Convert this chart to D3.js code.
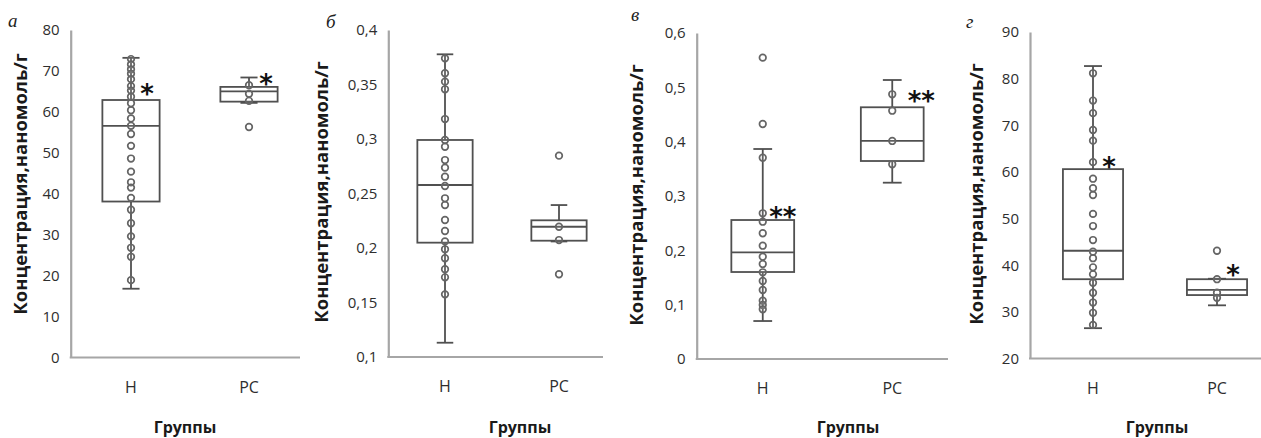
<!DOCTYPE html>
<html><head><meta charset="utf-8">
<script src="https://cdn.jsdelivr.net/npm/d3@7"></script>
<style>
html,body{margin:0;padding:0;background:#fff;}
svg{display:block;}
</style></head>
<body>
<svg id="chart" width="1261" height="438"></svg>
<script>
// ---------------- DATA ----------------
const groups = ["Н", "РС"];
const panelLetters = ["а", "б", "в", "г"];
const xAxisTitle = "Группы";
const yAxisTitle = "Концентрация,наномоль/г";

const yTicksA = [0, 10, 20, 30, 40, 50, 60, 70, 80];
const yTicksB = [0.1, 0.15, 0.2, 0.25, 0.3, 0.35, 0.4];
const yTicksC = [0, 0.1, 0.2, 0.3, 0.4, 0.5, 0.6];
const yTicksD = [20, 30, 40, 50, 60, 70, 80, 90];

// box stats: [lower whisker, Q1, median, Q3, upper whisker]
const boxA_N  = [16.8, 38.1, 56.6, 62.9, 73.2];
const boxA_PC = [62.2, 62.5, 65.0, 66.1, 68.4];
const boxB_N  = [0.1131, 0.2049, 0.2578, 0.2991, 0.3777];
const boxB_PC = [0.2060, 0.2067, 0.2195, 0.2254, 0.2394];
const boxC_N  = [0.0699, 0.1601, 0.1964, 0.2558, 0.3865];
const boxC_PC = [0.3245, 0.3644, 0.4013, 0.4633, 0.5135];
const boxD_N  = [26.5, 37.0, 43.1, 60.6, 82.7];
const boxD_PC = [31.4, 33.6, 34.7, 37.0, 37.1];

// individual observations
const pointsA_N  = [72.9, 71.6, 70.4, 69.3, 68.0, 66.3, 65.2, 63.7, 62.1, 60.4, 58.4, 56.6, 54.6, 51.7, 48.6, 45.4, 42.8, 41.5, 39.0, 36.1, 32.8, 29.6, 26.8, 24.6, 18.9];
const pointsA_PC = [66.5, 64.4, 62.7, 56.3];
const pointsB_N  = [0.374, 0.3603, 0.3526, 0.3456, 0.3183, 0.2991, 0.2929, 0.2807, 0.2737, 0.2654, 0.2569, 0.2456, 0.2394, 0.2257, 0.2156, 0.2061, 0.1988, 0.1906, 0.1805, 0.1731, 0.1575];
const pointsB_PC = [0.2847, 0.2195, 0.2073, 0.1759];
const pointsC_N  = [0.5546, 0.4325, 0.3705, 0.2682, 0.2527, 0.2314, 0.2085, 0.1883, 0.1749, 0.1596, 0.1436, 0.127, 0.1073, 0.0994, 0.0915];
const pointsC_PC = [0.4872, 0.457, 0.4013, 0.3584];
const pointsD_N  = [81.15, 75.3, 72.6, 69.0, 66.7, 62.1, 58.55, 56.5, 55.05, 51.0, 48.4, 45.4, 42.9, 41.5, 39.55, 38.05, 36.25, 34.1, 32.0, 29.8, 27.2];
const pointsD_PC = [43.1, 37.0, 34.1, 33.0];

// significance marks: [group, text, value]
const marksA = [["Н", "*", 65.5], ["РС", "*", 68.0]];
const marksB = [];
const marksC = [["Н", "**", 0.2711], ["РС", "**", 0.4841]];
const marksD = [["Н", "*", 62.2], ["РС", "*", 39.0]];

// ---------------- LAYOUT (positions / styles) ----------------
const layout = [
  {yDom:[0,80],     yRange:[357.5,30], axisX:70.7,  xRange:[72,308],    axisEnd:300,  letterXY:[8,27],   titleXY:[19,184],  gTitleX:185,  markDx:[16,17]},
  {yDom:[0.1,0.4],  yRange:[357,30],   axisX:388.3, xRange:[388,616],   axisEnd:603,  letterXY:[326,28], titleXY:[320,192], gTitleX:520,  markDx:[0,0]},
  {yDom:[0,0.6],    yRange:[359,33],   axisX:696.7, xRange:[698,957],   axisEnd:948,  letterXY:[631,21], titleXY:[635,195], gTitleX:848,  markDx:[20,29]},
  {yDom:[20,90],    yRange:[358.5,32], axisX:1030,  xRange:[1031,1279], axisEnd:1261, letterXY:[966,28], titleXY:[975,194], gTitleX:1157, markDx:[16,16]}
];
const panelTicks  = [yTicksA, yTicksB, yTicksC, yTicksD];
const panelBoxes  = [[boxA_N, boxA_PC], [boxB_N, boxB_PC], [boxC_N, boxC_PC], [boxD_N, boxD_PC]];
const panelPoints = [[pointsA_N, pointsA_PC], [pointsB_N, pointsB_PC], [pointsC_N, pointsC_PC], [pointsD_N, pointsD_PC]];
const panelMarks  = [marksA, marksB, marksC, marksD];

const AXIS_COLOR = "#a6a6a6";
const BOX_COLOR = "#505050";
const PT_COLOR = "#656565";
const TXT_COLOR = "#2e2e2e";
const FONT = "'Open Sans', 'DejaVu Sans', sans-serif";

const ruLocale = d3.formatLocale({decimal: ",", thousands: " ", grouping: [3], currency: ["", ""]});
const fmt = ruLocale.format("~g");

const svg = d3.select("#chart");
svg.append("rect").attr("width", 1261).attr("height", 438).attr("fill", "#fff");

layout.forEach((L, i) => {
  const g = svg.append("g");
  const y = d3.scaleLinear().domain(L.yDom).range(L.yRange);
  const x = d3.scaleBand().domain(groups).range(L.xRange).paddingInner(0).paddingOuter(0);
  const bw = x.bandwidth();
  const boxW = bw * 0.485;
  const capW = bw * 0.145;

  // y axis
  const yAxis = g.append("g").attr("transform", `translate(${L.axisX},0)`)
    .call(d3.axisLeft(y).tickValues(panelTicks[i]).tickSize(0).tickSizeOuter(0).tickPadding(11).tickFormat(fmt));
  yAxis.select(".domain").attr("stroke", AXIS_COLOR).attr("stroke-width", 2.2);
  yAxis.selectAll(".tick text").attr("font-family", FONT).attr("font-size", 15)
    .attr("font-weight", 500).attr("fill", TXT_COLOR);

  // x axis line
  g.append("line").attr("x1", L.axisX - 1).attr("x2", L.axisEnd)
    .attr("y1", L.yRange[0]).attr("y2", L.yRange[0])
    .attr("stroke", AXIS_COLOR).attr("stroke-width", 2.2);

  // category labels
  const xAxis = g.append("g").attr("transform", `translate(0,${L.yRange[0]})`)
    .call(d3.axisBottom(x).tickSize(0).tickPadding(24));
  xAxis.select(".domain").remove();
  xAxis.selectAll(".tick text").attr("font-family", FONT).attr("font-size", 16)
    .attr("font-weight", 500).attr("fill", TXT_COLOR);

  // boxes
  groups.forEach((grp, gi) => {
    const s = panelBoxes[i][gi];
    const cx = x(grp) + bw / 2;
    const bg = g.append("g").attr("stroke", BOX_COLOR).attr("stroke-width", 1.8).attr("fill", "none");
    bg.append("line").attr("x1", cx).attr("x2", cx).attr("y1", y(s[0])).attr("y2", y(s[1]));
    bg.append("line").attr("x1", cx).attr("x2", cx).attr("y1", y(s[3])).attr("y2", y(s[4]));
    bg.append("line").attr("x1", cx - capW / 2).attr("x2", cx + capW / 2).attr("y1", y(s[0])).attr("y2", y(s[0]));
    bg.append("line").attr("x1", cx - capW / 2).attr("x2", cx + capW / 2).attr("y1", y(s[4])).attr("y2", y(s[4]));
    bg.append("rect").attr("x", cx - boxW / 2).attr("width", boxW)
      .attr("y", y(s[3])).attr("height", y(s[1]) - y(s[3]));
    bg.append("line").attr("x1", cx - boxW / 2).attr("x2", cx + boxW / 2).attr("y1", y(s[2])).attr("y2", y(s[2]));

    g.append("g").selectAll("circle").data(panelPoints[i][gi]).join("circle")
      .attr("cx", cx).attr("cy", d => y(d)).attr("r", 3.3)
      .attr("fill", "rgba(255,255,255,0.1)").attr("stroke", PT_COLOR).attr("stroke-width", 1.7);
  });

  // significance marks
  panelMarks[i].forEach(m => {
    const gi = groups.indexOf(m[0]);
    const cx = x(m[0]) + bw / 2 + L.markDx[gi];
    g.append("text").attr("x", cx).attr("y", y(m[2]) + 14)
      .attr("text-anchor", "middle").attr("font-family", "'DejaVu Sans', sans-serif")
      .attr("font-weight", "bold").attr("font-size", 26).attr("fill", "#111")
      .text(m[1]);
  });

  // y title
  g.append("text").attr("transform", `translate(${L.titleXY[0]},${L.titleXY[1]}) rotate(-90)`)
    .attr("text-anchor", "middle").attr("dominant-baseline", "central")
    .attr("font-family", FONT).attr("font-weight", "bold").attr("font-size", 18.5).attr("fill", "#1a1a1a")
    .text(yAxisTitle);

  // x title
  g.append("text").attr("x", L.gTitleX).attr("y", 433)
    .attr("text-anchor", "middle").attr("font-family", FONT).attr("font-weight", "bold")
    .attr("font-size", 16).attr("fill", "#1a1a1a").text(xAxisTitle);

  // panel letter
  g.append("text").attr("x", L.letterXY[0]).attr("y", L.letterXY[1])
    .attr("font-family", "'Liberation Serif', 'DejaVu Serif', serif").attr("font-style", "italic")
    .attr("font-size", 19).attr("fill", "#222").text(panelLetters[i]);
});
</script>
</body></html>
